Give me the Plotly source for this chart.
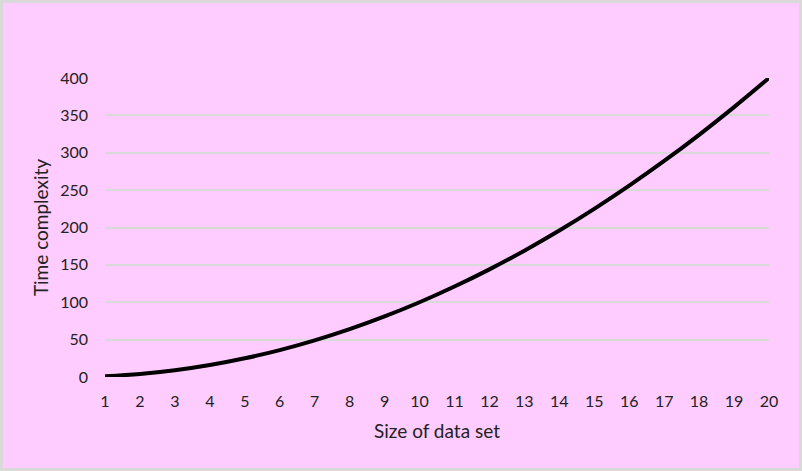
import plotly.graph_objects as go

sizes = list(range(1, 21))
complexity = [1, 4, 9, 16, 25, 36, 49, 64, 81, 100, 121, 144, 169, 196, 225, 256, 289, 324, 361, 400]
y_ticks = [0, 50, 100, 150, 200, 250, 300, 350, 400]

W, H = 802, 471
ml, mr, mt, mb = 105, 33, 78, 94
pw, ph = W - ml - mr, H - mt - mb

fig = go.Figure()
fig.add_trace(go.Scatter(x=sizes, y=complexity, mode="lines",
                         line=dict(color="black", width=4, shape="spline"),
                         hoverinfo="skip"))

font = dict(family="Lato, Liberation Sans, sans-serif", size=16, color="#222222")
fig.update_layout(
    width=W, height=H,
    margin=dict(l=ml, r=mr, t=mt, b=mb),
    paper_bgcolor="#FFCCFF", plot_bgcolor="#FFCCFF",
    showlegend=False, font=font,
    xaxis=dict(range=[1, 20], tickvals=sizes, showgrid=False, zeroline=False,
               showline=False, ticks="", ticklabelstandoff=13,
               title=dict(text="Size of data set", standoff=15)),
    yaxis=dict(range=[0, 400], tickvals=y_ticks, showgrid=True, gridcolor="#D9D9D9",
               gridwidth=2, zeroline=False, showline=False, ticks="",
               ticklabelstandoff=16,
               title=dict(text="Time complexity", standoff=6)),
    shapes=[dict(type="rect", xref="paper", yref="paper",
                 x0=(-ml + 1.5) / pw, x1=1 + (mr - 1.5) / pw,
                 y0=-(mb - 1.5) / ph, y1=1 + (mt - 1.5) / ph,
                 line=dict(color="#D9D9D9", width=3), layer="below")],
)
fig.update_xaxes(automargin=False)
fig.update_yaxes(automargin=False)
fig.write_html("out.html", config={"displayModeBar": False},
               post_script="document.body.style.margin='0';")
